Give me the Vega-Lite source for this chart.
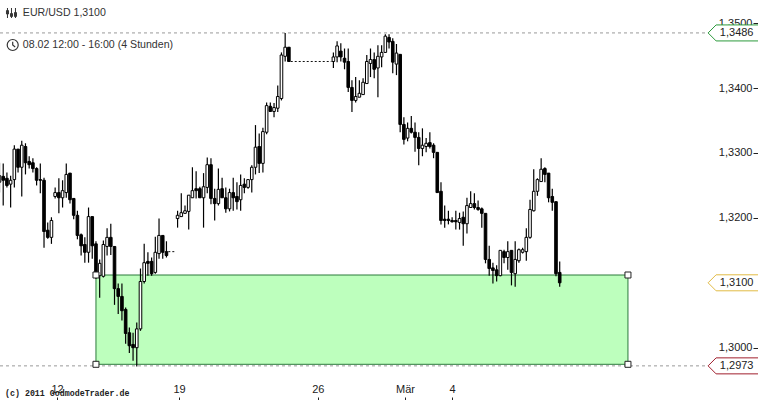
{
  "$schema": "https://vega.github.io/schema/vega-lite/v6.json",
  "width": 758,
  "height": 400,
  "padding": 0,
  "autosize": "none",
  "background": "white",
  "config": {"view": {"stroke": null}},
  "datasets": {
    "candles": [
      {"i":0,"o":1.3255,"h":1.3285,"l":1.3239,"c":1.3265},
      {"i":1,"o":1.3264,"h":1.3284,"l":1.3219,"c":1.3258},
      {"i":2,"o":1.3261,"h":1.3270,"l":1.3247,"c":1.3250},
      {"i":3,"o":1.3252,"h":1.3265,"l":1.3216,"c":1.3258},
      {"i":4,"o":1.3259,"h":1.3312,"l":1.3247,"c":1.3306},
      {"i":5,"o":1.3306,"h":1.3306,"l":1.3270,"c":1.3278},
      {"i":6,"o":1.3278,"h":1.3319,"l":1.3233,"c":1.3312},
      {"i":7,"o":1.3310,"h":1.3315,"l":1.3267,"c":1.3285},
      {"i":8,"o":1.3287,"h":1.3295,"l":1.3276,"c":1.3282},
      {"i":9,"o":1.3285,"h":1.3292,"l":1.3270,"c":1.3276},
      {"i":10,"o":1.3276,"h":1.3278,"l":1.3250,"c":1.3258},
      {"i":11,"o":1.3259,"h":1.3284,"l":1.3238,"c":1.3258},
      {"i":12,"o":1.3258,"h":1.3262,"l":1.3154,"c":1.3179},
      {"i":13,"o":1.3181,"h":1.3193,"l":1.3168,"c":1.3170},
      {"i":14,"o":1.3170,"h":1.3201,"l":1.3160,"c":1.3196},
      {"i":15,"o":1.3233,"h":1.3247,"l":1.3230,"c":1.3239},
      {"i":16,"o":1.3239,"h":1.3261,"l":1.3207,"c":1.3231},
      {"i":17,"o":1.3231,"h":1.3258,"l":1.3216,"c":1.3242},
      {"i":18,"o":1.3239,"h":1.3284,"l":1.3231,"c":1.3267},
      {"i":19,"o":1.3269,"h":1.3269,"l":1.3222,"c":1.3228},
      {"i":20,"o":1.3230,"h":1.3230,"l":1.3198,"c":1.3204},
      {"i":21,"o":1.3204,"h":1.3211,"l":1.3167,"c":1.3173},
      {"i":22,"o":1.3174,"h":1.3176,"l":1.3142,"c":1.3157},
      {"i":23,"o":1.3159,"h":1.3170,"l":1.3131,"c":1.3147},
      {"i":24,"o":1.3147,"h":1.3216,"l":1.3131,"c":1.3202},
      {"i":25,"o":1.3202,"h":1.3202,"l":1.3137,"c":1.3157},
      {"i":26,"o":1.3160,"h":1.3164,"l":1.3106,"c":1.3111},
      {"i":27,"o":1.3111,"h":1.3136,"l":1.3077,"c":1.3130},
      {"i":28,"o":1.3110,"h":1.3165,"l":1.3108,"c":1.3159},
      {"i":29,"o":1.3156,"h":1.3184,"l":1.3142,"c":1.3170},
      {"i":30,"o":1.3170,"h":1.3191,"l":1.3143,"c":1.3156},
      {"i":31,"o":1.3156,"h":1.3156,"l":1.3066,"c":1.3091},
      {"i":32,"o":1.3091,"h":1.3099,"l":1.3052,"c":1.3079},
      {"i":33,"o":1.3079,"h":1.3099,"l":1.3042,"c":1.3057},
      {"i":34,"o":1.3059,"h":1.3062,"l":1.3006,"c":1.3022},
      {"i":35,"o":1.3023,"h":1.3031,"l":1.2992,"c":1.3003},
      {"i":36,"o":1.3005,"h":1.3023,"l":1.2980,"c":1.3000},
      {"i":37,"o":1.3000,"h":1.3039,"l":1.2971,"c":1.3029},
      {"i":38,"o":1.3029,"h":1.3122,"l":1.3026,"c":1.3102},
      {"i":39,"o":1.3102,"h":1.3160,"l":1.3099,"c":1.3131},
      {"i":40,"o":1.3133,"h":1.3147,"l":1.3111,"c":1.3130},
      {"i":41,"o":1.3133,"h":1.3139,"l":1.3111,"c":1.3114},
      {"i":42,"o":1.3116,"h":1.3171,"l":1.3114,"c":1.3147},
      {"i":43,"o":1.3145,"h":1.3199,"l":1.3137,"c":1.3173},
      {"i":44,"o":1.3173,"h":1.3173,"l":1.3137,"c":1.3147},
      {"i":45,"o":1.3148,"h":1.3164,"l":1.3139,"c":1.3142},
      {"i":48,"o":1.3199,"h":1.3211,"l":1.3185,"c":1.3204},
      {"i":49,"o":1.3202,"h":1.3238,"l":1.3202,"c":1.3208},
      {"i":50,"o":1.3207,"h":1.3219,"l":1.3207,"c":1.3211},
      {"i":51,"o":1.3210,"h":1.3235,"l":1.3182,"c":1.3235},
      {"i":52,"o":1.3231,"h":1.3278,"l":1.3231,"c":1.3242},
      {"i":53,"o":1.3245,"h":1.3272,"l":1.3230,"c":1.3242},
      {"i":54,"o":1.3245,"h":1.3248,"l":1.3231,"c":1.3231},
      {"i":55,"o":1.3231,"h":1.3269,"l":1.3185,"c":1.3248},
      {"i":56,"o":1.3247,"h":1.3293,"l":1.3238,"c":1.3282},
      {"i":57,"o":1.3282,"h":1.3292,"l":1.3221,"c":1.3230},
      {"i":58,"o":1.3230,"h":1.3245,"l":1.3196,"c":1.3222},
      {"i":59,"o":1.3222,"h":1.3276,"l":1.3219,"c":1.3244},
      {"i":60,"o":1.3245,"h":1.3262,"l":1.3231,"c":1.3231},
      {"i":61,"o":1.3231,"h":1.3247,"l":1.3208,"c":1.3214},
      {"i":62,"o":1.3214,"h":1.3245,"l":1.3210,"c":1.3239},
      {"i":63,"o":1.3239,"h":1.3262,"l":1.3211,"c":1.3231},
      {"i":64,"o":1.3233,"h":1.3255,"l":1.3213,"c":1.3225},
      {"i":65,"o":1.3228,"h":1.3267,"l":1.3211,"c":1.3250},
      {"i":66,"o":1.3252,"h":1.3261,"l":1.3238,"c":1.3247},
      {"i":67,"o":1.3247,"h":1.3259,"l":1.3245,"c":1.3259},
      {"i":68,"o":1.3259,"h":1.3281,"l":1.3239,"c":1.3278},
      {"i":69,"o":1.3278,"h":1.3343,"l":1.3267,"c":1.3309},
      {"i":70,"o":1.3310,"h":1.3330,"l":1.3269,"c":1.3284},
      {"i":71,"o":1.3284,"h":1.3339,"l":1.3270,"c":1.3333},
      {"i":72,"o":1.3332,"h":1.3378,"l":1.3329,"c":1.3373},
      {"i":73,"o":1.3372,"h":1.3378,"l":1.3363,"c":1.3364},
      {"i":74,"o":1.3364,"h":1.3377,"l":1.3355,"c":1.3370},
      {"i":75,"o":1.3369,"h":1.3404,"l":1.3363,"c":1.3387},
      {"i":76,"o":1.3384,"h":1.3455,"l":1.3381,"c":1.3451},
      {"i":77,"o":1.3449,"h":1.3485,"l":1.3441,"c":1.3463},
      {"i":78,"o":1.3463,"h":1.3463,"l":1.3441,"c":1.3441},
      {"i":90,"o":1.3441,"h":1.3455,"l":1.3431,"c":1.3448},
      {"i":91,"o":1.3448,"h":1.3472,"l":1.3440,"c":1.3465},
      {"i":92,"o":1.3457,"h":1.3469,"l":1.3441,"c":1.3448},
      {"i":93,"o":1.3446,"h":1.3461,"l":1.3429,"c":1.3440},
      {"i":94,"o":1.3441,"h":1.3461,"l":1.3394,"c":1.3401},
      {"i":95,"o":1.3401,"h":1.3412,"l":1.3363,"c":1.3381},
      {"i":96,"o":1.3381,"h":1.3417,"l":1.3378,"c":1.3387},
      {"i":97,"o":1.3386,"h":1.3412,"l":1.3386,"c":1.3392},
      {"i":98,"o":1.3390,"h":1.3415,"l":1.3390,"c":1.3409},
      {"i":99,"o":1.3407,"h":1.3451,"l":1.3407,"c":1.3441},
      {"i":100,"o":1.3438,"h":1.3461,"l":1.3417,"c":1.3444},
      {"i":101,"o":1.3444,"h":1.3455,"l":1.3415,"c":1.3429},
      {"i":102,"o":1.3431,"h":1.3466,"l":1.3386,"c":1.3449},
      {"i":103,"o":1.3448,"h":1.3466,"l":1.3432,"c":1.3455},
      {"i":104,"o":1.3455,"h":1.3483,"l":1.3454,"c":1.3480},
      {"i":105,"o":1.3478,"h":1.3483,"l":1.3461,"c":1.3471},
      {"i":106,"o":1.3472,"h":1.3477,"l":1.3423,"c":1.3440},
      {"i":107,"o":1.3437,"h":1.3468,"l":1.3420,"c":1.3454},
      {"i":108,"o":1.3452,"h":1.3452,"l":1.3332,"c":1.3344},
      {"i":109,"o":1.3344,"h":1.3355,"l":1.3313,"c":1.3321},
      {"i":110,"o":1.3323,"h":1.3347,"l":1.3318,"c":1.3338},
      {"i":111,"o":1.3338,"h":1.3357,"l":1.3330,"c":1.3332},
      {"i":112,"o":1.3332,"h":1.3347,"l":1.3302,"c":1.3324},
      {"i":113,"o":1.3324,"h":1.3332,"l":1.3281,"c":1.3307},
      {"i":114,"o":1.3307,"h":1.3338,"l":1.3295,"c":1.3312},
      {"i":115,"o":1.3310,"h":1.3323,"l":1.3301,"c":1.3315},
      {"i":116,"o":1.3316,"h":1.3332,"l":1.3307,"c":1.3310},
      {"i":117,"o":1.3312,"h":1.3315,"l":1.3292,"c":1.3301},
      {"i":118,"o":1.3301,"h":1.3301,"l":1.3239,"c":1.3239},
      {"i":119,"o":1.3241,"h":1.3255,"l":1.3190,"c":1.3196},
      {"i":120,"o":1.3198,"h":1.3219,"l":1.3185,"c":1.3196},
      {"i":121,"o":1.3198,"h":1.3211,"l":1.3190,"c":1.3196},
      {"i":122,"o":1.3196,"h":1.3201,"l":1.3193,"c":1.3194},
      {"i":123,"o":1.3196,"h":1.3211,"l":1.3182,"c":1.3194},
      {"i":124,"o":1.3193,"h":1.3208,"l":1.3182,"c":1.3199},
      {"i":125,"o":1.3201,"h":1.3210,"l":1.3157,"c":1.3191},
      {"i":126,"o":1.3191,"h":1.3231,"l":1.3176,"c":1.3219},
      {"i":127,"o":1.3216,"h":1.3241,"l":1.3216,"c":1.3222},
      {"i":128,"o":1.3222,"h":1.3238,"l":1.3213,"c":1.3216},
      {"i":129,"o":1.3216,"h":1.3227,"l":1.3211,"c":1.3213},
      {"i":130,"o":1.3214,"h":1.3216,"l":1.3185,"c":1.3207},
      {"i":131,"o":1.3207,"h":1.3207,"l":1.3130,"c":1.3136},
      {"i":132,"o":1.3136,"h":1.3157,"l":1.3111,"c":1.3122},
      {"i":133,"o":1.3123,"h":1.3131,"l":1.3099,"c":1.3119},
      {"i":134,"o":1.3120,"h":1.3127,"l":1.3102,"c":1.3111},
      {"i":135,"o":1.3111,"h":1.3150,"l":1.3110,"c":1.3150},
      {"i":136,"o":1.3148,"h":1.3151,"l":1.3130,"c":1.3139},
      {"i":137,"o":1.3139,"h":1.3164,"l":1.3120,"c":1.3148},
      {"i":138,"o":1.3150,"h":1.3150,"l":1.3096,"c":1.3116},
      {"i":139,"o":1.3114,"h":1.3164,"l":1.3094,"c":1.3136},
      {"i":140,"o":1.3134,"h":1.3153,"l":1.3131,"c":1.3151},
      {"i":141,"o":1.3147,"h":1.3154,"l":1.3145,"c":1.3151},
      {"i":142,"o":1.3148,"h":1.3184,"l":1.3134,"c":1.3170},
      {"i":143,"o":1.3170,"h":1.3228,"l":1.3168,"c":1.3213},
      {"i":144,"o":1.3211,"h":1.3275,"l":1.3210,"c":1.3241},
      {"i":145,"o":1.3241,"h":1.3261,"l":1.3234,"c":1.3259},
      {"i":146,"o":1.3256,"h":1.3292,"l":1.3256,"c":1.3275},
      {"i":147,"o":1.3276,"h":1.3278,"l":1.3255,"c":1.3267},
      {"i":148,"o":1.3269,"h":1.3269,"l":1.3224,"c":1.3231},
      {"i":149,"o":1.3233,"h":1.3245,"l":1.3211,"c":1.3224},
      {"i":150,"o":1.3225,"h":1.3225,"l":1.3110,"c":1.3114},
      {"i":151,"o":1.3116,"h":1.3133,"l":1.3094,"c":1.3100}
    ],
    "levels": [
      {"i":0.135,"i2":191,"p":1.3485,"tag":"1,3486","kind":"high"},
      {"i":0.135,"i2":191,"p":1.2972,"tag":"1,2973","kind":"low"}
    ],
    "tags": [
      {"i":191,"ilabel":198.7,"p":1.3485,"tag":"1,3486","kind":"high"},
      {"i":191,"ilabel":198.7,"p":1.3100,"tag":"1,3100","kind":"last"},
      {"i":191,"ilabel":198.7,"p":1.2972,"tag":"1,2973","kind":"low"}
    ]
  },
  "layer": [
    {
      "data": {"values": [{"i": 26, "i2": 169.4, "top": 1.3112, "bottom": 1.29744}]},
      "mark": {"type": "rect", "fill": "#bdffbd", "stroke": "#2b7a3b", "strokeWidth": 1},
      "encoding": {
        "x": {
          "field": "i", "type": "quantitative", "title": null,
          "scale": {"domain": [0.135, 204.45], "nice": false, "zero": false, "padding": 0},
          "axis": {
            "orient": "top", "offset": -400, "title": null, "grid": false, "domain": false,
            "values": [15.5, 48.4, 85.8, 109.3, 122],
            "labelExpr": "{'15.5':'12','48.4':'19','85.8':'26','109.3':'Mär','122':'4'}[datum.value]",
            "labelFont": "Liberation Sans", "labelFontSize": 11, "labelColor": "#222222",
            "labelPadding": 3, "labelOverlap": false, "labelFlush": false, "labelBound": false,
            "tickSize": 3, "tickColor": "#222222"
          }
        },
        "x2": {"field": "i2"},
        "y": {
          "field": "top", "type": "quantitative", "title": null,
          "scale": {"domain": [1.291941, 1.353575], "nice": false, "zero": false, "padding": 0},
          "axis": {
            "orient": "left", "offset": -758, "title": null, "grid": false, "domain": false,
            "values": [1.30, 1.32, 1.33, 1.34, 1.35],
            "labelExpr": "replace(format(datum.value, '.4f'), '.', ',')",
            "labelFont": "Liberation Sans", "labelFontSize": 11, "labelColor": "#222222",
            "labelPadding": 1, "labelOverlap": false, "labelFlush": false, "labelBound": false,
            "tickSize": 5, "tickColor": "#222222"
          }
        },
        "y2": {"field": "bottom"}
      }
    },
    {
      "data": {"name": "levels"},
      "mark": {"type": "rule", "stroke": "#999999", "strokeWidth": 1, "strokeDash": [3, 3]},
      "encoding": {
        "x": {"field": "i", "type": "quantitative", "title": null},
        "x2": {"field": "i2"},
        "y": {"field": "p", "type": "quantitative", "title": null}
      }
    },
    {
      "data": {"values": [
        {"i": 45.5, "p": 1.3148, "seg": "a"},
        {"i": 47.5, "p": 1.3148, "seg": "a"},
        {"i": 78.5, "p": 1.3441, "seg": "b"},
        {"i": 89.5, "p": 1.3441, "seg": "b"}
      ]},
      "mark": {"type": "line", "stroke": "#111111", "strokeWidth": 1, "strokeDash": [2, 2]},
      "encoding": {
        "x": {"field": "i", "type": "quantitative", "title": null},
        "y": {"field": "p", "type": "quantitative", "title": null},
        "detail": {"field": "seg"}
      }
    },
    {
      "data": {"name": "candles"},
      "mark": {"type": "rule", "stroke": "#000000", "strokeWidth": 1.2},
      "encoding": {
        "x": {"field": "i", "type": "quantitative", "title": null},
        "y": {"field": "h", "type": "quantitative", "title": null},
        "y2": {"field": "l"}
      }
    },
    {
      "data": {"name": "candles"},
      "mark": {"type": "bar", "size": 2.6, "stroke": "#000000", "strokeWidth": 1},
      "encoding": {
        "x": {"field": "i", "type": "quantitative", "title": null},
        "y": {"field": "o", "type": "quantitative", "title": null},
        "y2": {"field": "c"},
        "fill": {"condition": {"test": "datum.c >= datum.o", "value": "#ffffff"}, "value": "#000000"}
      }
    },
    {
      "data": {"values": [
        {"i": 26, "p": 1.3112},
        {"i": 169.4, "p": 1.3112},
        {"i": 26, "p": 1.29744},
        {"i": 169.4, "p": 1.29744}
      ]},
      "mark": {"type": "square", "size": 36, "fill": "#ffffff", "stroke": "#222222", "strokeWidth": 1, "opacity": 1},
      "encoding": {
        "x": {"field": "i", "type": "quantitative", "title": null},
        "y": {"field": "p", "type": "quantitative", "title": null}
      }
    },
    {
      "data": {"name": "tags"},
      "mark": {
        "type": "point", "shape": "M0,0L1,-1L6.4,-1L6.4,1L1,1Z", "size": 256,
        "filled": true, "fill": "#ffffff", "opacity": 1, "strokeWidth": 1
      },
      "encoding": {
        "x": {"field": "i", "type": "quantitative", "title": null},
        "y": {"field": "p", "type": "quantitative", "title": null},
        "stroke": {
          "field": "kind", "type": "nominal", "legend": null,
          "scale": {"domain": ["high", "last", "low"], "range": ["#2c9a3c", "#e2bb45", "#a01f2d"]}
        }
      }
    },
    {
      "data": {"name": "tags"},
      "mark": {"type": "text", "font": "Liberation Sans", "fontSize": 11, "fill": "#222222", "align": "center", "baseline": "middle"},
      "encoding": {
        "x": {"field": "ilabel", "type": "quantitative", "title": null},
        "y": {"field": "p", "type": "quantitative", "title": null},
        "text": {"field": "tag"}
      }
    },
    {
      "data": {"values": [
        {"i": 6.3, "p": 1.35157, "t": "EUR/USD 1,3100"},
        {"i": 6.3, "p": 1.34664, "t": "08.02 12:00 - 16:00 (4 Stunden)"}
      ]},
      "mark": {"type": "text", "font": "Liberation Sans", "fontSize": 10.6, "fill": "#333333", "align": "left", "baseline": "middle"},
      "encoding": {
        "x": {"field": "i", "type": "quantitative", "title": null},
        "y": {"field": "p", "type": "quantitative", "title": null},
        "text": {"field": "t"}
      }
    },
    {
      "data": {"values": [{"i": 1.48, "p": 1.29287, "t": "(c) 2011 GodmodeTrader.de"}]},
      "mark": {"type": "text", "font": "Liberation Mono", "fontSize": 8.3, "fontWeight": "bold", "fill": "#222222", "align": "left", "baseline": "middle"},
      "encoding": {
        "x": {"field": "i", "type": "quantitative", "title": null},
        "y": {"field": "p", "type": "quantitative", "title": null},
        "text": {"field": "t"}
      }
    },
    {
      "data": {"values": [{"i": 3.23, "p": 1.35157}]},
      "mark": {
        "type": "point",
        "shape": "M-0.8,-1L-0.8,1M-1,-0.5L-0.6,-0.5L-0.6,0.2L-1,0.2ZM0,-1L0,1M-0.2,0.1L0.2,0.1L0.2,0.7L-0.2,0.7ZM0.8,-1L0.8,1M0.6,-0.1L1,-0.1L1,0.7L0.6,0.7Z",
        "size": 100, "filled": false, "stroke": "#333333", "strokeWidth": 1, "opacity": 1
      },
      "encoding": {
        "x": {"field": "i", "type": "quantitative", "title": null},
        "y": {"field": "p", "type": "quantitative", "title": null}
      }
    },
    {
      "data": {"values": [{"i": 3.56, "p": 1.34664}]},
      "mark": {
        "type": "point",
        "shape": "M-1,0A1,1 0 1,1 1,0A1,1 0 1,1 -1,0ZM0,-0.6L0,0L0.45,0.35",
        "size": 121, "filled": false, "stroke": "#333333", "strokeWidth": 1.2, "opacity": 1
      },
      "encoding": {
        "x": {"field": "i", "type": "quantitative", "title": null},
        "y": {"field": "p", "type": "quantitative", "title": null}
      }
    }
  ]
}
